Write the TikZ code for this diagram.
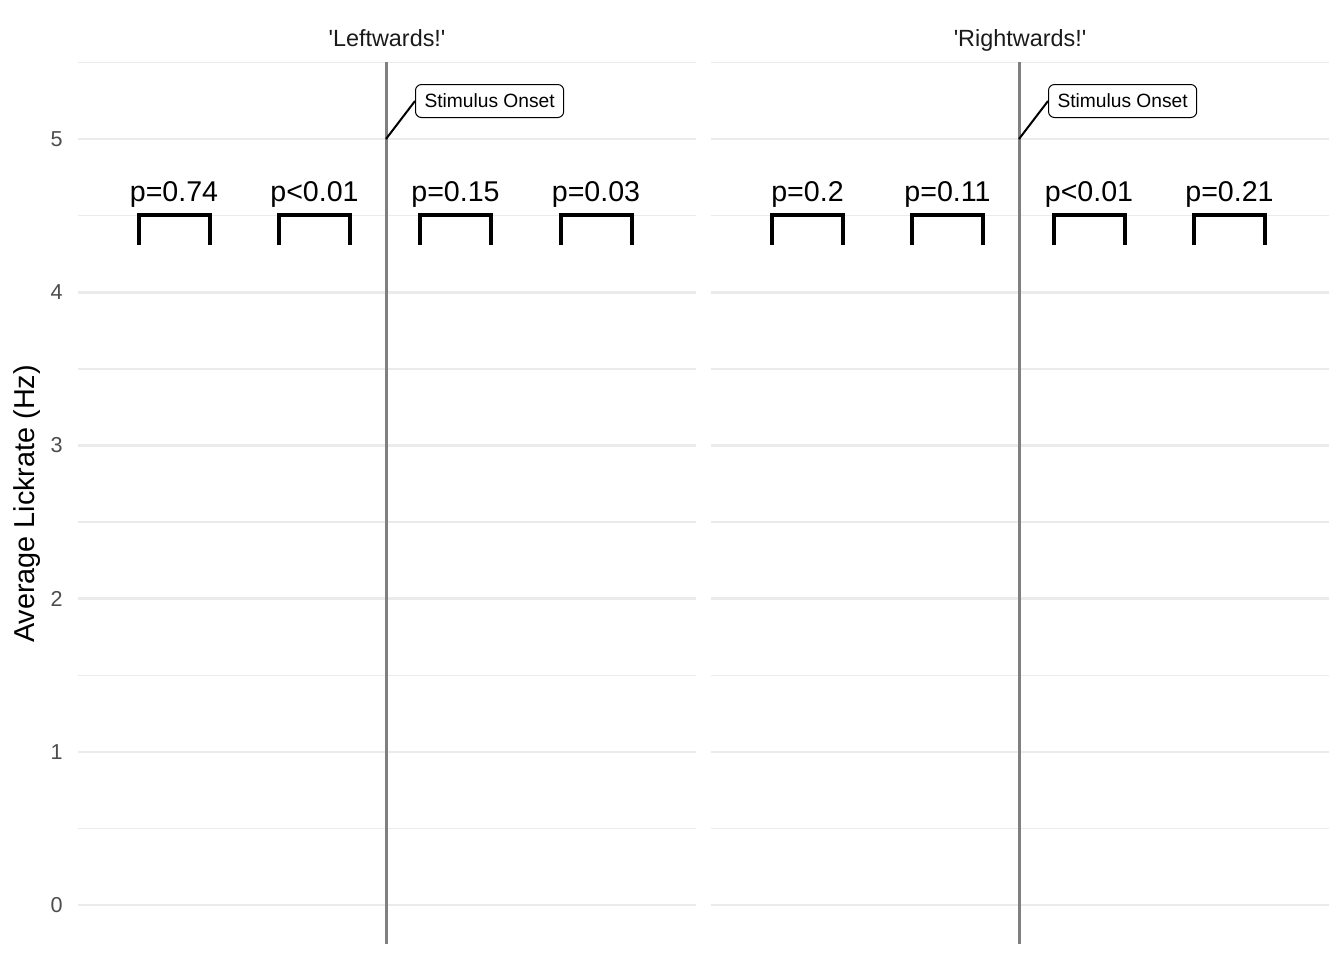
\documentclass[tikz,border=0pt]{standalone}
\usepackage{fontspec}
\newfontfamily\plotfont{Liberation Sans}
\definecolor{gridgray}{HTML}{EBEBEB}
\definecolor{tickgray}{HTML}{4D4D4D}
\definecolor{titlegray}{HTML}{1A1A1A}
\tikzset{
  majorgrid/.style={draw=gridgray, line width=1.3pt},
  minorgrid/.style={draw=gridgray, line width=0.7pt},
  onsetline/.style={draw=black!50, line width=1.5pt},
  bracket/.style={draw=black, line width=2pt},
  pval/.style={font=\plotfont\fontsize{14.3}{17}\selectfont, anchor=base, inner sep=0pt},
  ticklabel/.style={font=\plotfont\fontsize{10.8}{13}\selectfont, text=tickgray, anchor=east, inner sep=0pt},
  paneltitle/.style={font=\plotfont\fontsize{11.7}{14}\selectfont, text=titlegray, anchor=base, inner sep=0pt},
  onsetbox/.style={draw=black, line width=0.5pt, rounded corners=3pt, fill=white,
    font=\plotfont\fontsize{9.6}{12}\selectfont, inner xsep=4.5pt, minimum height=16.5pt, anchor=west}
}
\begin{document}
\begin{tikzpicture}[x=0.5pt,y=-0.5pt]
  \useasboundingbox (0,0) rectangle (1344,960);
  % grid of both panels
  \foreach \px/\qx in {78/696,711/1329}{
    \foreach \v in {0,...,5}
      \draw[majorgrid] (\px,{905-153.2*\v}) -- (\qx,{905-153.2*\v});
    \foreach \v in {0.5,1.5,...,5.5}
      \draw[minorgrid] (\px,{905-153.2*\v}) -- (\qx,{905-153.2*\v});
  }
  \foreach \v in {0,...,5}
    \node[ticklabel] (tick\v) at (63,{905-153.2*\v}) {\v};
  \node[rotate=90, font=\plotfont\fontsize{14.4}{17}\selectfont] (ylab) at (27,504) {Average Lickrate (Hz)};

  \node[paneltitle] (titleL) at (387,46) {'Leftwards!'};
  \node[paneltitle] (titleR) at (1020,46) {'Rightwards!'};

  % stimulus onset
  \draw[onsetline] (386,62) -- (386,944);
  \draw[onsetline] (1019,62) -- (1019,944);
  \coordinate (onsetL) at (386,139);
  \coordinate (onsetR) at (1019,139);
  \node[onsetbox] (boxL) at (415,101) {Stimulus Onset};
  \node[onsetbox] (boxR) at (1048,101) {Stimulus Onset};
  \draw[line width=1pt] (onsetL) -- (boxL.west);
  \draw[line width=1pt] (onsetR) -- (boxR.west);

  % comparisons
  \foreach \c/\t [count=\i] in {174/p=0.74, 314.5/p<0.01, 455.5/p=0.15, 596/p=0.03,
      807.5/p=0.2, 947.5/p=0.11, 1089/p<0.01, 1229.5/p=0.21}{
    \draw[bracket] (\c-35.5,245) -- (\c-35.5,215) -- (\c+35.5,215) -- (\c+35.5,245);
    \node[pval] (p\i) at (\c,201) {\t};
  }
\end{tikzpicture}
\end{document}
